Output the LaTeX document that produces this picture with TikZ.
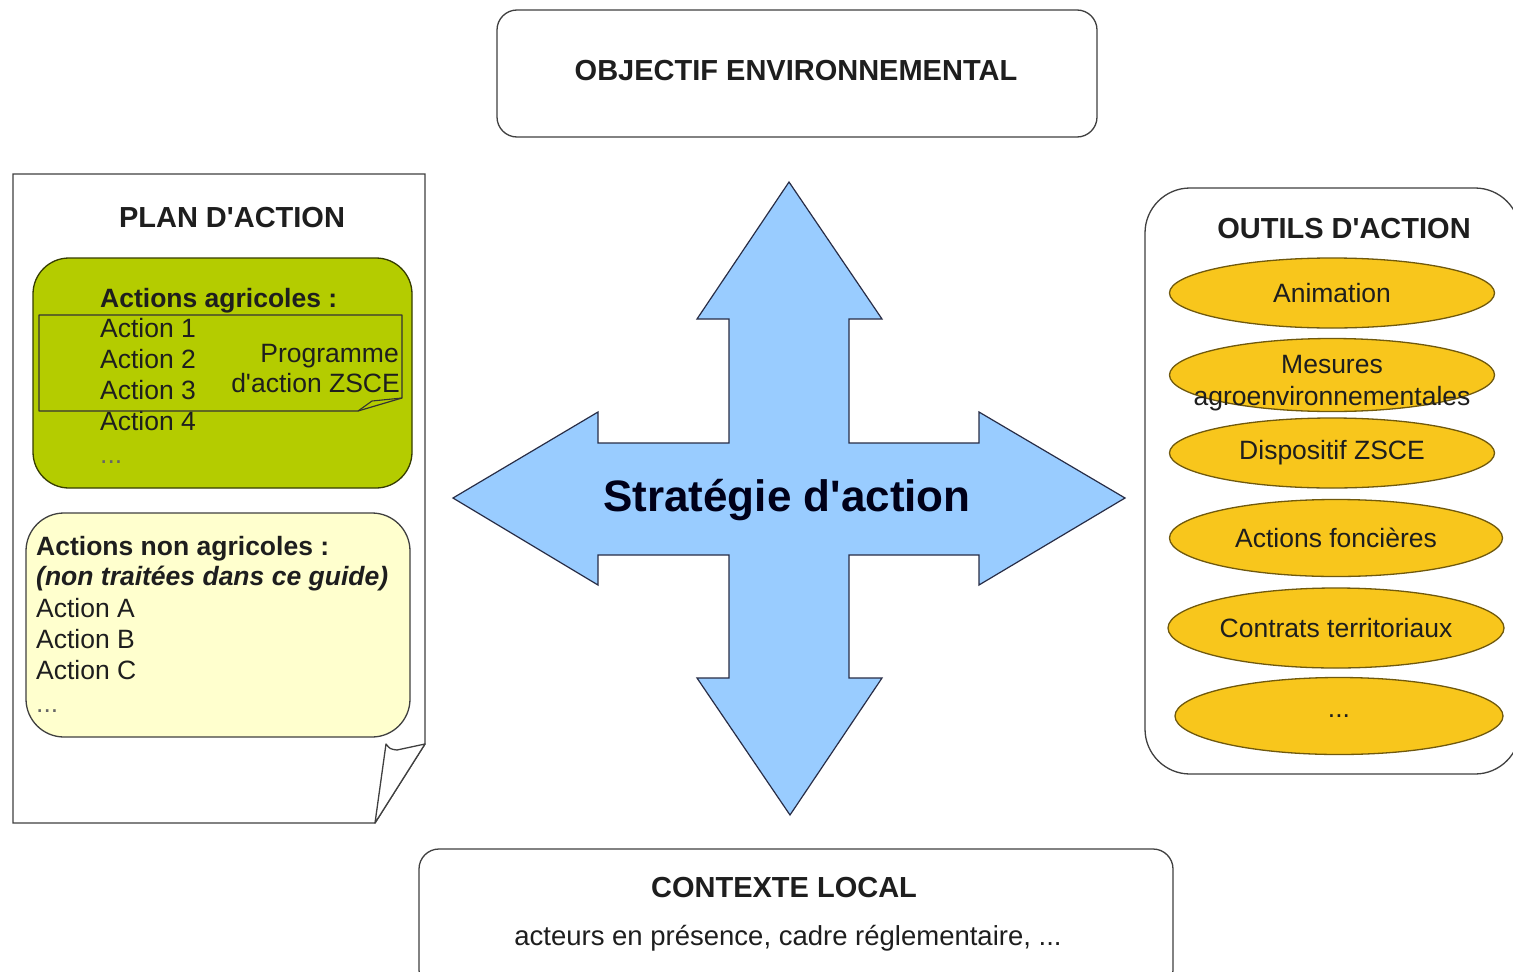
\documentclass[tikz,border=0pt]{standalone}
\usepackage{fontspec}
\setmainfont{Liberation Sans}
\usetikzlibrary{shapes.geometric}
\definecolor{agrigreen}{RGB}{180,204,0}
\definecolor{paleyellow}{RGB}{255,255,206}
\definecolor{toolgold}{RGB}{248,198,28}
\definecolor{crossblue}{RGB}{153,204,255}
\definecolor{inkgray}{RGB}{30,30,30}
\definecolor{crossline}{RGB}{40,45,70}
\newcommand{\apos}{\textquotesingle}
\begin{document}
\begin{tikzpicture}[x=1pt,y=-1pt,
  hdr/.style={font=\fontsize{29}{34}\selectfont\bfseries, text=inkgray, inner sep=0},
  body/.style={font=\fontsize{26.5}{31}\selectfont, text=inkgray, inner sep=0, anchor=base west},
  bodyb/.style={font=\fontsize{26.5}{31}\selectfont\bfseries, text=inkgray, inner sep=0, anchor=base west},
  bodybi/.style={font=\fontsize{26.5}{31}\selectfont\bfseries\itshape, text=inkgray, inner sep=0, anchor=base west},
  frame/.style={draw=black!75, line width=1.3pt},
  tool/.style={ellipse, draw=black!55!toolgold, line width=1.3pt, fill=toolgold, inner sep=0},
  tooltext/.style={font=\fontsize{26.5}{32}\selectfont, text=inkgray, inner sep=0, align=center}
]
\useasboundingbox (0,0) rectangle (1513,972);
\clip (0,0) rectangle (1513,972);
\fill[white] (0,0) rectangle (1513,972);

% top box
\draw[frame, rounded corners=20pt] (497,10) rectangle (1097,137);
\node[hdr] (objectif) at (796,71) {OBJECTIF ENVIRONNEMENTAL};

% bottom box
\draw[frame, rounded corners=20pt] (419,849) rectangle (1173,990);
\node[hdr] (contexte) at (784,888) {CONTEXTE LOCAL};
\node[font=\fontsize{27.5}{32}\selectfont, text=inkgray, inner sep=0] (acteurs) at (788,938) {acteurs en présence, cadre réglementaire, ...};

% plan d'action page
\draw[frame, fill=white] (13,174) -- (425,174) -- (425,744) -- (375,823) -- (13,823) -- cycle;
\draw[frame, fill=white, line join=round] (375,823) -- (386,744) .. controls (390,749) .. (397,750) -- (425,744) -- cycle;
\node[hdr] (plan) at (232,218) {PLAN D\apos ACTION};

% green box
\draw[draw=black!70!agrigreen, line width=1.3pt, fill=agrigreen, rounded corners=36pt] (33,258) rectangle (412,488);
\node[bodyb] (agri) at (100,307) {Actions agricoles :};
\node[body] (a1) at (100,337) {Action 1};
\node[body] (a2) at (100,368) {Action 2};
\node[body] (a3) at (100,399) {Action 3};
\node[body] (a4) at (100,430) {Action 4};
\node[body, text=black!60] (adots) at (100,463) {...};
\draw[draw=black!80, line width=1.2pt, line join=round] (39,315) -- (402,315) -- (402,398) -- (358,411) -- (39,411) -- cycle;
\draw[draw=black!80, line width=1.1pt, line join=round] (358,411) -- (372,401) -- (402,398);
\node[body, anchor=base east] (prog1) at (399,362) {Programme};
\node[body, anchor=base east] (prog2) at (400,392) {d\apos action ZSCE};

% pale yellow box
\draw[draw=black!75, line width=1.3pt, fill=paleyellow, rounded corners=38pt] (26,513) rectangle (410,737);
\node[bodyb] (nonagri) at (36,555) {Actions non agricoles :};
\node[bodybi] (nontrait) at (36,585) {(non traitées dans ce guide)};
\node[body] (aA) at (36,617) {Action A};
\node[body] (aB) at (36,648) {Action B};
\node[body] (aC) at (36,679) {Action C};
\node[body, text=black!60] (bdots) at (36,712) {...};

% outils d'action box
\draw[frame, rounded corners=45pt] (1145,188) rectangle (1520,774);
\node[hdr] (outils) at (1344,229) {OUTILS D\apos ACTION};
\node[tool, minimum width=325pt, minimum height=70pt] (anim) at (1332,293) {};
\node[tooltext] (animt) at (anim.center) {Animation};
\node[tool, minimum width=325pt, minimum height=73pt] (mae) at (1332,375) {};
\node[tooltext] (maet) at ([yshift=-8pt]mae.center) {Mesures\\agroenvironnementales};
\node[tool, minimum width=325pt, minimum height=70pt] (zsce) at (1332,453) {};
\node[tooltext] (zscet) at (zsce.center) {Dispositif ZSCE};
\node[tool, minimum width=333pt, minimum height=77pt] (fonc) at (1336,538) {};
\node[tooltext] (fonct) at (fonc.center) {Actions foncières};
\node[tool, minimum width=336pt, minimum height=80pt] (contr) at (1336,628) {};
\node[tooltext] (contrt) at (contr.center) {Contrats territoriaux};
\node[tool, minimum width=328pt, minimum height=77pt] (tdots) at (1339,716) {};
\node[tooltext] (tdotst) at (tdots.center) {...};

% central cross arrow
\draw[draw=crossline, line width=1.2pt, fill=crossblue, line join=miter]
  (789,182) -- (882,319) -- (849,319) -- (849,443) -- (979,443) -- (979,412) -- (1125,498)
  -- (979,585) -- (979,555) -- (849,555) -- (849,678) -- (882,678) -- (790,815) -- (697,678)
  -- (729,678) -- (729,555) -- (598,555) -- (598,585) -- (453,498) -- (598,412) -- (598,443)
  -- (729,443) -- (729,319) -- (697,319) -- cycle;
\node[font=\fontsize{44}{50}\selectfont\bfseries, text=black!90!blue, inner sep=0] (strat) at (787,500) {Stratégie d\apos action};
\end{tikzpicture}
\end{document}
